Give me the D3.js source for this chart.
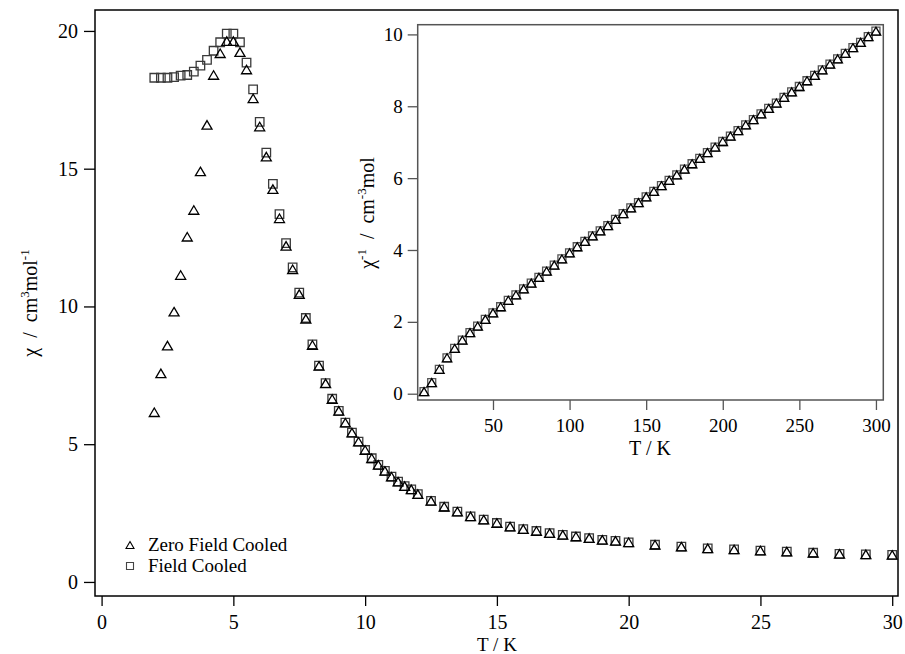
<!DOCTYPE html>
<html>
<head>
<meta charset="utf-8">
<script src="https://cdn.jsdelivr.net/npm/d3@7"></script>
<style>
  html, body { margin: 0; padding: 0; background: #fff; }
  svg { display: block; }
  text { font-family: "Liberation Serif", "Times New Roman", serif; fill: #000; white-space: pre; }
</style>
</head>
<body>
<svg id="chart" width="905" height="654"></svg>
<script>
// Temperature grid of the susceptibility sweep (K)
const temps = [
  2, 2.25, 2.5, 2.75, 3, 3.25, 3.5, 3.75, 4, 4.25, 4.5, 4.75, 5, 5.25, 5.5, 5.75,
  6, 6.25, 6.5, 6.75, 7, 7.25, 7.5, 7.75, 8, 8.25, 8.5, 8.75, 9, 9.25, 9.5, 9.75,
  10, 10.25, 10.5, 10.75, 11, 11.25, 11.5, 11.75, 12,
  12.5, 13, 13.5, 14, 14.5, 15, 15.5, 16, 16.5, 17, 17.5, 18, 18.5, 19, 19.5, 20,
  21, 22, 23, 24, 25, 26, 27, 28, 29, 30
];
// Zero field cooled χ (cm3 mol-1)
const chiZFC = [
  6.16, 7.57, 8.58, 9.81, 11.14, 12.53, 13.50, 14.90, 16.59, 18.40, 19.19, 19.63, 19.63, 19.23, 18.60, 17.55,
  16.53, 15.44, 14.26, 13.20, 12.20, 11.35, 10.45, 9.55, 8.60, 7.84, 7.21, 6.64, 6.21, 5.78, 5.42, 5.09,
  4.79, 4.49, 4.25, 4.03, 3.82, 3.64, 3.48, 3.36, 3.19,
  2.94, 2.73, 2.55, 2.38, 2.26, 2.14, 2.01, 1.92, 1.85, 1.77, 1.71, 1.65, 1.59, 1.53, 1.49, 1.44,
  1.35, 1.28, 1.22, 1.18, 1.14, 1.10, 1.06, 1.02, 1.00, 0.98
];
// Field cooled χ (cm3 mol-1)
const chiFC = [
  18.30, 18.30, 18.30, 18.32, 18.38, 18.40, 18.52, 18.74, 18.95, 19.28, 19.59, 19.90, 19.90, 19.59, 18.85, 17.88,
  16.70, 15.58, 14.45, 13.35, 12.30, 11.42, 10.50, 9.58, 8.62, 7.85, 7.22, 6.65, 6.21, 5.78, 5.42, 5.09,
  4.79, 4.49, 4.25, 4.03, 3.82, 3.64, 3.48, 3.36, 3.19,
  2.94, 2.73, 2.55, 2.38, 2.26, 2.14, 2.01, 1.92, 1.85, 1.77, 1.71, 1.65, 1.59, 1.53, 1.49, 1.44,
  1.35, 1.28, 1.22, 1.18, 1.14, 1.10, 1.06, 1.02, 1.00, 0.98
];
// Inverse susceptibility, 5–300 K (cm-3 mol)
const invTemps = [
  5, 10, 15, 20, 25, 30, 35, 40, 45, 50, 55, 60, 65, 70, 75, 80, 85, 90, 95, 100,
  105, 110, 115, 120, 125, 130, 135, 140, 145, 150, 155, 160, 165, 170, 175, 180, 185, 190, 195, 200,
  205, 210, 215, 220, 225, 230, 235, 240, 245, 250, 255, 260, 265, 270, 275, 280, 285, 290, 295, 300
];
const invChiZFC = [
  0.06, 0.31, 0.68, 1.00, 1.26, 1.49, 1.70, 1.88, 2.07, 2.25, 2.42, 2.60, 2.75, 2.92, 3.08, 3.24, 3.41, 3.58, 3.75, 3.92,
  4.09, 4.24, 4.39, 4.53, 4.68, 4.85, 5.01, 5.17, 5.32, 5.48, 5.63, 5.79, 5.94, 6.09, 6.25, 6.40, 6.55, 6.71, 6.86, 7.02,
  7.17, 7.32, 7.48, 7.63, 7.79, 7.94, 8.09, 8.25, 8.40, 8.55, 8.71, 8.86, 9.01, 9.17, 9.32, 9.47, 9.63, 9.78, 9.94, 10.09
];
const invChiFC = [
  0.06, 0.31, 0.68, 1.00, 1.26, 1.49, 1.70, 1.88, 2.07, 2.25, 2.42, 2.60, 2.75, 2.92, 3.08, 3.24, 3.41, 3.58, 3.75, 3.92,
  4.09, 4.24, 4.39, 4.53, 4.68, 4.85, 5.01, 5.17, 5.32, 5.48, 5.63, 5.79, 5.94, 6.09, 6.25, 6.40, 6.55, 6.71, 6.86, 7.02,
  7.17, 7.32, 7.48, 7.63, 7.79, 7.94, 8.09, 8.25, 8.40, 8.55, 8.71, 8.86, 9.01, 9.17, 9.32, 9.47, 9.63, 9.78, 9.94, 10.09
];
const mainXTicks = [0, 5, 10, 15, 20, 25, 30];
const mainYTicks = [0, 5, 10, 15, 20];
const insetXTicks = [50, 100, 150, 200, 250, 300];
const insetYTicks = [0, 2, 4, 6, 8, 10];
const legendLabels = ["Zero Field Cooled", "Field Cooled"];

const svg = d3.select("#chart");
svg.append("rect").attr("width", 905).attr("height", 654).attr("fill", "#fff");

// marker path generators, centred on the bounding box
function triPath(w, h) {
  return `M0,${-h / 2}L${w / 2},${h / 2}L${-w / 2},${h / 2}Z`;
}
function sqPath(s) {
  return `M${-s / 2},${-s / 2}h${s}v${s}h${-s}Z`;
}

function styleAxis(g, color, fontSize) {
  g.select(".domain").remove();
  g.selectAll(".tick line").attr("stroke", color).attr("stroke-width", 1.3);
  g.selectAll(".tick text")
    .style("font-family", '"Liberation Serif", "Times New Roman", serif')
    .style("font-size", fontSize + "px")
    .attr("fill", "#000");
}

// ---------- main panel ----------
const x = d3.scaleLinear().domain([-0.25, 30.22]).range([95, 898]);
const y = d3.scaleLinear().domain([-0.51, 20.76]).range([596, 10]);

svg.append("g").attr("transform", "translate(0,596)")
  .call(d3.axisBottom(x).tickValues(mainXTicks).tickSize(10).tickPadding(9).tickFormat(d3.format("d")))
  .call(g => styleAxis(g, "#000", 20));
svg.append("g").attr("transform", "translate(95,0)")
  .call(d3.axisLeft(y).tickValues(mainYTicks).tickSize(11).tickPadding(6).tickFormat(d3.format("d")))
  .call(g => styleAxis(g, "#000", 20));

svg.append("rect")
  .attr("x", x.range()[0]).attr("y", y.range()[1])
  .attr("width", x.range()[1] - x.range()[0]).attr("height", y.range()[0] - y.range()[1])
  .attr("fill", "none").attr("stroke", "#000").attr("stroke-width", 1.5);

const mainPts = temps.map((t, i) => ({ t, zfc: chiZFC[i], fc: chiFC[i] }));
svg.append("g").selectAll("path").data(mainPts).join("path")
  .attr("d", sqPath(8.5))
  .attr("transform", d => `translate(${x(d.t)},${y(d.fc)})`)
  .attr("fill", "none").attr("stroke", "#3a3a3a").attr("stroke-width", 1.3);
svg.append("g").selectAll("path").data(mainPts).join("path")
  .attr("d", triPath(10, 8.5))
  .attr("transform", d => `translate(${x(d.t)},${y(d.zfc)})`)
  .attr("fill", "none").attr("stroke", "#000").attr("stroke-width", 1.3);

// axis titles
svg.append("text")
  .attr("x", 497).attr("y", 651).attr("text-anchor", "middle")
  .style("font-size", "19px").text("T / K");

const yl = svg.append("text")
  .attr("transform", "translate(37,303) rotate(-90)")
  .attr("text-anchor", "middle").style("font-size", "20px");
yl.append("tspan").text("χ  /  cm");
yl.append("tspan").attr("dy", -8).style("font-size", "13px").text("3");
yl.append("tspan").attr("dy", 8).text("mol");
yl.append("tspan").attr("dy", -8).style("font-size", "13px").text("-1");

// legend
const legend = svg.append("g");
legend.append("path").attr("d", triPath(8, 7)).attr("transform", "translate(130,545)")
  .attr("fill", "none").attr("stroke", "#000").attr("stroke-width", 1.1);
legend.append("path").attr("d", sqPath(7)).attr("transform", "translate(130,566)")
  .attr("fill", "none").attr("stroke", "#444").attr("stroke-width", 1.1);
legend.selectAll("text").data(legendLabels).join("text")
  .attr("x", 148).attr("y", (d, i) => 551 + i * 21)
  .style("font-size", "19px").text(d => d);

// ---------- inset panel ----------
const xi = d3.scaleLinear().domain([0.85, 304.8]).range([417.7, 883.3]);
const yi = d3.scaleLinear().domain([-0.175, 10.27]).range([400, 24.7]);

svg.append("rect")
  .attr("x", xi.range()[0]).attr("y", yi.range()[1])
  .attr("width", xi.range()[1] - xi.range()[0]).attr("height", yi.range()[0] - yi.range()[1])
  .attr("fill", "#fff").attr("stroke", "#555").attr("stroke-width", 1.5);

svg.append("g").attr("transform", "translate(0,400)")
  .call(d3.axisBottom(xi).tickValues(insetXTicks).tickSize(10).tickPadding(9).tickFormat(d3.format("d")))
  .call(g => styleAxis(g, "#555", 19));
svg.append("g").attr("transform", "translate(417.7,0)")
  .call(d3.axisLeft(yi).tickValues(insetYTicks).tickSize(10).tickPadding(5).tickFormat(d3.format("d")))
  .call(g => styleAxis(g, "#555", 19));

const invPts = invTemps.map((t, i) => ({ t, zfc: invChiZFC[i], fc: invChiFC[i] }));
svg.append("g").selectAll("path").data(invPts).join("path")
  .attr("d", sqPath(8))
  .attr("transform", d => `translate(${xi(d.t)},${yi(d.fc)})`)
  .attr("fill", "none").attr("stroke", "#555").attr("stroke-width", 1.3);
svg.append("g").selectAll("path").data(invPts).join("path")
  .attr("d", triPath(9.5, 8))
  .attr("transform", d => `translate(${xi(d.t)},${yi(d.zfc)})`)
  .attr("fill", "none").attr("stroke", "#000").attr("stroke-width", 1.3);

svg.append("text")
  .attr("x", 650).attr("y", 455).attr("text-anchor", "middle")
  .style("font-size", "20px").text("T / K");

const yli = svg.append("text")
  .attr("transform", "translate(374,213) rotate(-90)")
  .attr("text-anchor", "middle").style("font-size", "20px");
yli.append("tspan").text("χ");
yli.append("tspan").attr("dy", -8).style("font-size", "13px").text("-1");
yli.append("tspan").attr("dy", 8).text("  /  cm");
yli.append("tspan").attr("dy", -8).style("font-size", "13px").text("-3");
yli.append("tspan").attr("dy", 8).text("mol");
</script>
</body>
</html>
